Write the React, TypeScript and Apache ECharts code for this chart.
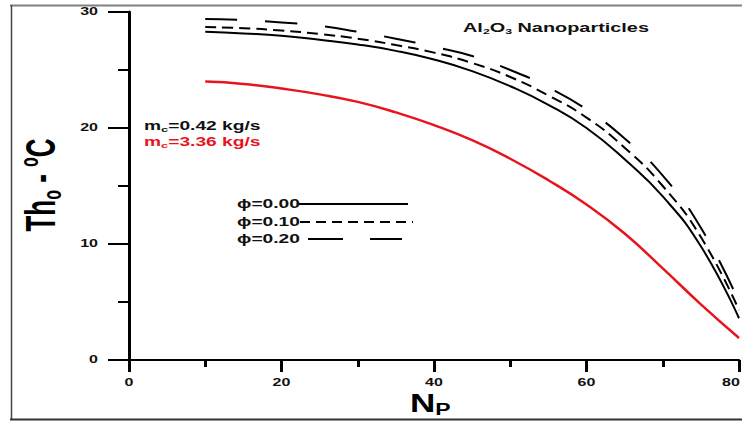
import React, { useEffect, useRef } from "react";
import * as echarts from "echarts";

const NP = [10, 15, 20, 25, 30, 35, 40, 45, 50, 55, 60, 65, 70, 75, 80];
const phi000 = [28.3, 28.15, 27.95, 27.6, 27.2, 26.65, 25.9, 24.9, 23.6, 22.0, 20.0, 17.3, 14.1, 9.8, 3.6];
const phi010 = [28.7, 28.6, 28.4, 28.1, 27.7, 27.15, 26.5, 25.6, 24.4, 22.8, 20.9, 18.3, 15.0, 10.6, 4.3];
const phi020 = [29.4, 29.3, 29.1, 28.8, 28.3, 27.7, 27.0, 26.2, 25.0, 23.5, 21.6, 19.1, 15.9, 11.4, 5.0];
const mc336 = [24.0, 23.8, 23.4, 22.9, 22.25, 21.35, 20.25, 18.95, 17.35, 15.5, 13.4, 10.9, 7.9, 4.8, 1.9];
const xTicks = [0, 20, 40, 60, 80];
const yTicks = [0, 10, 20, 30];
const legendLabels = ["\u03d5=0.00", "\u03d5=0.10", "\u03d5=0.20"];

const FONT = '"Liberation Sans", Arial, sans-serif';
const RED = "#e8141b";

export default function App() {
  const ref = useRef<HTMLDivElement>(null);
  useEffect(() => {
    const chart = echarts.init(ref.current!, null, { renderer: "svg", width: 742, height: 421 });
    const pairs = (ys: number[]) => NP.map((x, i) => [x, ys[i]]);
    chart.setOption({
      animation: false,
      backgroundColor: "#ffffff",
      grid: { left: 129, right: 3, top: 12, bottom: 61 },
      xAxis: {
        type: "value",
        min: 0,
        max: 80,
        interval: 20,
        axisLine: { show: true, onZero: false, lineStyle: { color: "#000", width: 2 } },
        axisTick: { show: true, length: 12, lineStyle: { color: "#000", width: 3 } },
        minorTick: { show: true, splitNumber: 2, length: 7, lineStyle: { color: "#000", width: 3 } },
        axisLabel: { show: false },
        splitLine: { show: false },
      },
      yAxis: {
        type: "value",
        min: 0,
        max: 30,
        interval: 10,
        axisLine: { show: true, onZero: false, lineStyle: { color: "#000", width: 3 } },
        axisTick: { show: true, length: 21, lineStyle: { color: "#000", width: 2 } },
        minorTick: { show: true, splitNumber: 2, length: 11, lineStyle: { color: "#000", width: 2 } },
        axisLabel: { show: false },
        splitLine: { show: false },
      },
      series: [
        { type: "line", name: "mc=3.36", data: pairs(mc336), smooth: 0.5, symbol: "none", lineStyle: { color: RED, width: 2.5 } },
        { type: "line", name: "phi=0.00", data: pairs(phi000), smooth: 0.5, symbol: "none", lineStyle: { color: "#000", width: 2 } },
        { type: "line", name: "phi=0.10", data: pairs(phi010), smooth: 0.5, symbol: "none", lineStyle: { color: "#000", width: 2, type: [11, 6] } },
        { type: "line", name: "phi=0.20", data: pairs(phi020), smooth: 0.5, symbol: "none", lineStyle: { color: "#000", width: 2, type: [32, 28] } },
      ],
    });

    const g: any[] = [];
    // frame
    g.push({ type: "line", shape: { x1: 10, y1: 5.5, x2: 742, y2: 5.5 }, style: { stroke: "#808080", lineWidth: 2 } });
    g.push({ type: "line", shape: { x1: 11.5, y1: 5, x2: 11.5, y2: 420 }, style: { stroke: "#444", lineWidth: 1.5 } });
    g.push({ type: "line", shape: { x1: 10, y1: 419.5, x2: 742, y2: 419.5 }, style: { stroke: "#333", lineWidth: 2 } });

    xTicks.forEach((v) => {
      const p = chart.convertToPixel({ gridIndex: 0 }, [v, 0]) as number[];
      g.push({
        type: "text", x: Math.min(p[0], 731), y: p[1] + 23, scaleX: 1.6,
        style: { text: String(v), align: "center", verticalAlign: "middle", fontSize: 10, fontWeight: "bold", fontFamily: FONT, fill: "#111" },
      });
    });
    yTicks.forEach((v) => {
      const p = chart.convertToPixel({ gridIndex: 0 }, [0, v]) as number[];
      g.push({
        type: "text", x: 98, y: p[1], scaleX: 1.6,
        style: { text: String(v), align: "right", verticalAlign: "middle", fontSize: 10, fontWeight: "bold", fontFamily: FONT, fill: "#111" },
      });
    });

    // axis titles
    g.push({
      type: "text", x: 410, y: 403, scaleX: 1.35,
      style: {
        text: "{a|N}{s|P}", align: "left", verticalAlign: "middle", fill: "#000",
        rich: {
          a: { fontSize: 26, fontWeight: "bold", fontFamily: FONT, lineHeight: 30, fill: "#000" },
          s: { fontSize: 17, fontWeight: "bold", fontFamily: FONT, lineHeight: 16, verticalAlign: "bottom", fill: "#000" },
        },
      },
    });
    g.push({
      type: "text", x: 41, y: 185, rotation: Math.PI / 2, scaleY: 1.6,
      style: {
        text: "{a|Th}{s|o}{a| - }{u|o}{a|C}", align: "center", verticalAlign: "middle", fill: "#000",
        rich: {
          a: { fontSize: 26, fontWeight: "bold", fontFamily: FONT, lineHeight: 30, fill: "#000" },
          s: { fontSize: 16, fontWeight: "bold", fontFamily: FONT, lineHeight: 6, verticalAlign: "bottom", fill: "#000" },
          u: { fontSize: 16, fontWeight: "bold", fontFamily: FONT, lineHeight: 18, verticalAlign: "top", fill: "#000" },
        },
      },
    });

    // title annotation
    g.push({
      type: "text", x: 463, y: 28, scaleX: 1.53,
      style: {
        text: "{a|Al}{s|2}{a|O}{s|3}{a| Nanoparticles}", align: "left", verticalAlign: "middle", fill: "#111",
        rich: {
          a: { fontSize: 13, fontWeight: "bold", fontFamily: FONT, lineHeight: 15, fill: "#111" },
          s: { fontSize: 8, fontWeight: "bold", fontFamily: FONT, lineHeight: 8, verticalAlign: "bottom", fill: "#111" },
        },
      },
    });

    // mass flow annotations
    const mcText = (val: string, y: number, color: string) => ({
      type: "text", x: 144, y, scaleX: 1.6,
      style: {
        text: `{a|m}{s|c}{a|=${val} kg/s}`, align: "left", verticalAlign: "middle", fill: color,
        rich: {
          a: { fontSize: 12, fontWeight: "bold", fontFamily: FONT, lineHeight: 14, fill: color },
          s: { fontSize: 8, fontWeight: "bold", fontFamily: FONT, lineHeight: 8, verticalAlign: "bottom", fill: color },
        },
      },
    });
    g.push(mcText("0.42", 126, "#111"));
    g.push(mcText("3.36", 142, RED));

    // legend
    const legY = [204, 222, 239];
    const legLines = [
      { x1: 299, x2: 408, dash: null },
      { x1: 300, x2: 413, dash: [10, 6] },
      { x1: 308, x2: 402, dash: [35, 27] },
    ];
    legendLabels.forEach((t, i) => {
      g.push({
        type: "text", x: 237, y: legY[i], scaleX: 1.6,
        style: { text: t, align: "left", verticalAlign: "middle", fontSize: 12, fontWeight: "bold", fontFamily: FONT, fill: "#111" },
      });
      const L = legLines[i];
      g.push({
        type: "line", shape: { x1: L.x1, y1: legY[i], x2: L.x2, y2: legY[i] },
        style: { stroke: "#000", lineWidth: 2, lineDash: L.dash || undefined },
      });
    });

    chart.setOption({ graphic: g });
    return () => chart.dispose();
  }, []);
  return <div ref={ref} style={{ position: "fixed", left: 0, top: 0, width: 742, height: 421 }} />;
}
